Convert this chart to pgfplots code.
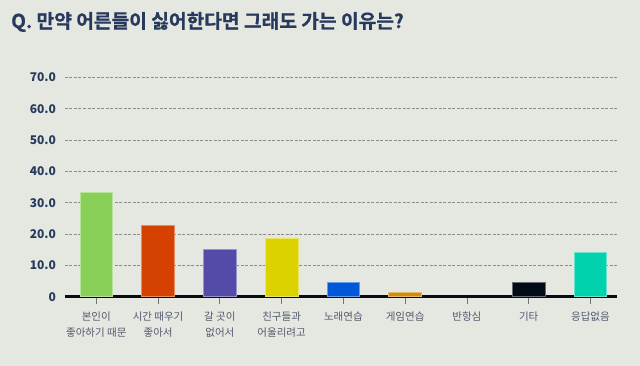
\documentclass[border=0pt]{standalone}
\usepackage{pgfplots}
\pgfplotsset{compat=1.18}
\usepackage{fontspec}
\setmainfont{Noto Sans CJK KR}
\newfontfamily\titlefont{Noto Sans CJK KR Bold}[FakeBold=0.7]
\definecolor{bg}{HTML}{E5E7E1}
\definecolor{navy}{HTML}{28395E}
\definecolor{lbl}{HTML}{505A6C}
\definecolor{cA}{HTML}{88D058}
\definecolor{cB}{HTML}{D44100}
\definecolor{cC}{HTML}{544BA8}
\definecolor{cD}{HTML}{DCD200}
\definecolor{cE}{HTML}{0058D8}
\definecolor{cF}{HTML}{D18A0A}
\definecolor{cG}{HTML}{020B18}
\definecolor{cH}{HTML}{00D2AE}
\begin{document}
\begin{tikzpicture}[x=1pt,y=1pt]
\fill[bg] (0,0) rectangle (640,366);
\node[anchor=west,inner sep=0pt,text=navy,font=\fontsize{19.2}{21}\titlefont] at (11,344) {Q. 만약 어른들이 싫어한다면 그래도 가는 이유는?};
\begin{axis}[
  at={(65pt,69.3pt)}, anchor=south west,
  scale only axis, width=552pt, height=219.4pt,
  xmin=-0.507, xmax=8.43, ymin=0, ymax=70,
  axis x line=bottom, axis y line=left,
  x axis line style={-, line width=2.6pt, color=black!80!navy},
  y axis line style={draw=none},
  xtick={0,...,8},
  xticklabels={{본인이\\좋아하기 때문},{시간 때우기\\좋아서},{갈 곳이\\없어서},{친구들과\\어울리려고},{노래연습},{게임연습},{반항심},{기타},{응답없음}},
  xticklabel style={align=center, font=\fontsize{10.5}{16}\selectfont, text=lbl, anchor=north, yshift=-5pt},
  xtick align=outside,
  xtick style={draw=black!55, line width=0.8pt},
  major tick length=7pt,
  ytick={0,10,...,70},
  yticklabels={0,10.0,20.0,30.0,40.0,50.0,60.0,70.0},
  ytick style={draw=none},
  yticklabel style={font=\fontsize{12}{14}\selectfont\bfseries, text=navy, anchor=east, xshift=-2pt},
  ymajorgrids,
  grid style={dashed, dash pattern=on 3pt off 1.5pt, line width=0.7pt, color=black!45},
  clip=false,
]
\addplot[ybar, bar width=32.7pt, bar shift=0pt, fill=cA, draw=cA!60!white, line width=0.8pt] coordinates {(0,33.2)};
\addplot[ybar, bar width=32.7pt, bar shift=0pt, fill=cB, draw=cB!60!white, line width=0.8pt] coordinates {(1,22.9)};
\addplot[ybar, bar width=32.7pt, bar shift=0pt, fill=cC, draw=cC!60!white, line width=0.8pt] coordinates {(2,15.0)};
\addplot[ybar, bar width=32.7pt, bar shift=0pt, fill=cD, draw=cD!60!white, line width=0.8pt] coordinates {(3,18.5)};
\addplot[ybar, bar width=32.7pt, bar shift=0pt, fill=cE, draw=cE!60!white, line width=0.8pt] coordinates {(4,4.6)};
\addplot[ybar, bar width=32.7pt, bar shift=0pt, fill=cF, draw=cF!60!white, line width=0.8pt] coordinates {(5,1.4)};
\addplot[ybar, bar width=32.7pt, bar shift=0pt, fill=none, draw=none] coordinates {(6,0)};
\addplot[ybar, bar width=32.7pt, bar shift=0pt, fill=cG, draw=cG!60!white, line width=0.8pt] coordinates {(7,4.6)};
\addplot[ybar, bar width=32.7pt, bar shift=0pt, fill=cH, draw=cH!60!white, line width=0.8pt] coordinates {(8,14.2)};
\end{axis}
\end{tikzpicture}
\end{document}
